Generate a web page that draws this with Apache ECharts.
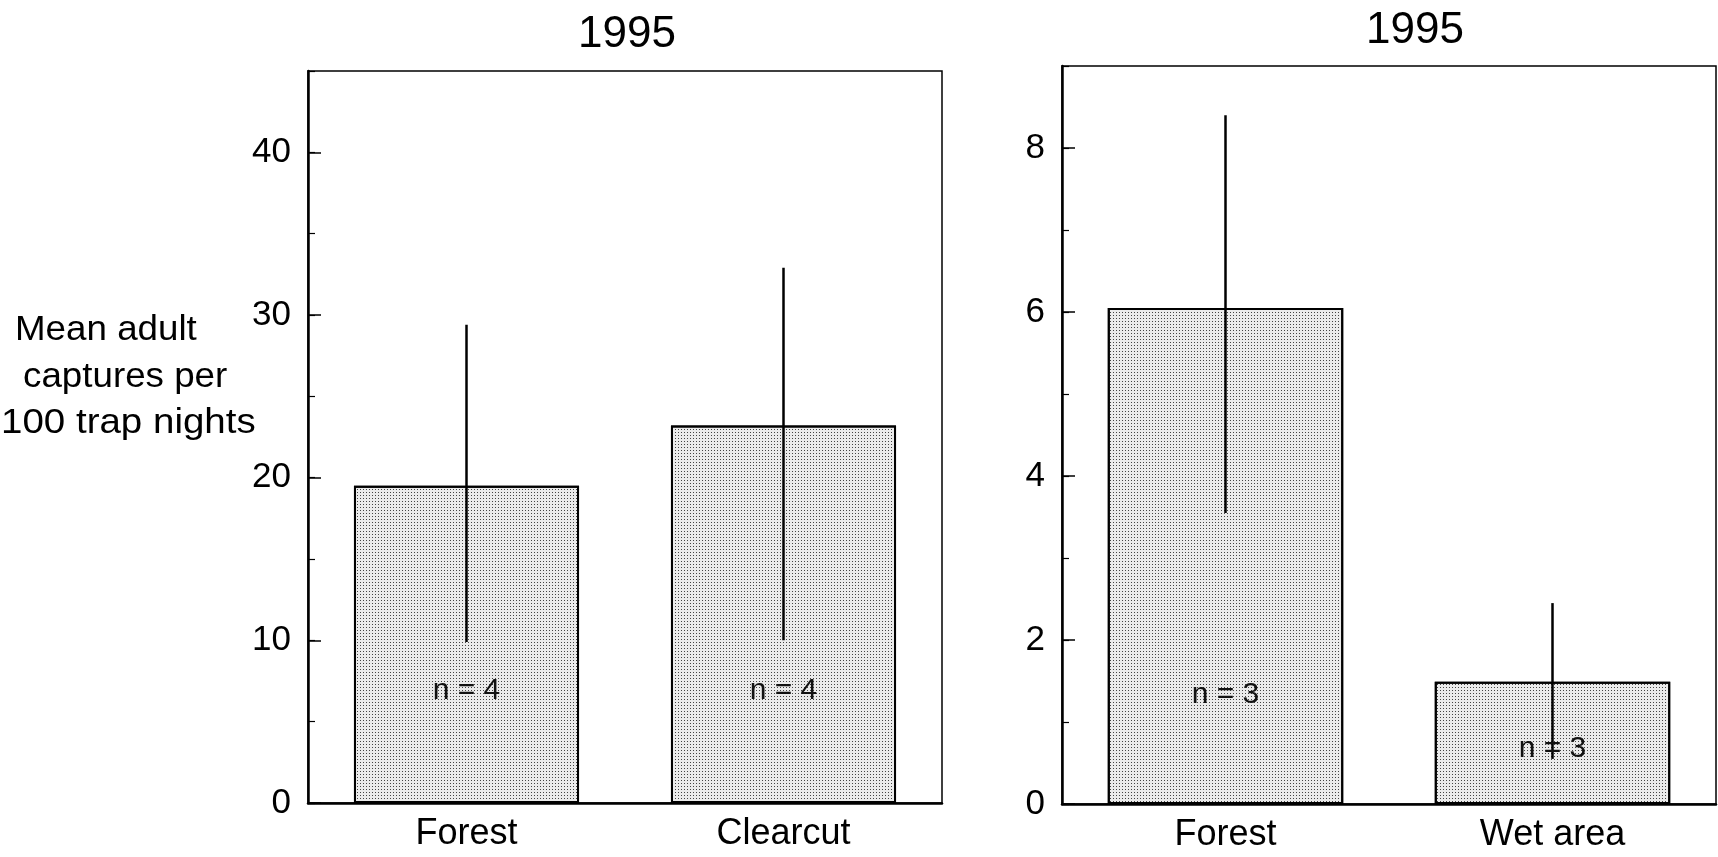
<!DOCTYPE html>
<html>
<head>
    <meta charset="utf-8" />
    <title>Mean adult captures 1995</title>
    <style>
        html, body { margin: 0; padding: 0; background: #fff; }
        #main { width: 1718px; height: 857px; }
    </style>
</head>
<body>
    <div id="main"></div>
    <script src="https://cdn.jsdelivr.net/npm/echarts@6/dist/echarts.min.js"></script>
    <script type="text/javascript">
        // left panel: forest vs clearcut
        var leftCats = ['Forest', 'Clearcut'];
        var leftMeans = [19.5, 23.2];
        var leftLow = [9.9, 10.0];
        var leftHigh = [29.4, 32.9];
        var leftN = ['n = 4', 'n = 4'];
        var leftNAt = [6.9, 6.9];

        // right panel: forest vs wet area
        var rightCats = ['Forest', 'Wet area'];
        var rightMeans = [6.05, 1.49];
        var rightLow = [3.55, 0.55];
        var rightHigh = [8.4, 2.45];
        var rightN = ['n = 3', 'n = 3'];
        var rightNAt = [1.33, 0.68];

        var panelTitles = ['1995', '1995'];
        var yName = ['Mean adult', 'captures per', '100 trap nights'];

        var FONT = 'Liberation Sans, Arial, sans-serif';

        var chart = echarts.init(document.getElementById('main'));

        function errData(low, high) {
            return low.map(function (v, i) { return [i, v, high[i]]; });
        }
        function nData(at, txt) {
            return at.map(function (v, i) { return [i, v, txt[i]]; });
        }

        function errRender(params, api) {
            var a = api.coord([api.value(0), api.value(1)]);
            var b = api.coord([api.value(0), api.value(2)]);
            return {
                type: 'line',
                shape: { x1: a[0], y1: a[1], x2: b[0], y2: b[1] },
                style: { stroke: '#000', lineWidth: 2.5 }
            };
        }
        function nRender(params, api) {
            var p = api.coord([api.value(0), api.value(1)]);
            return {
                type: 'text',
                x: p[0], y: p[1],
                style: {
                    text: api.value(2),
                    fill: '#111',
                    font: '30px ' + FONT,
                    textAlign: 'center',
                    textVerticalAlign: 'middle'
                }
            };
        }

        var barStyle = {
            color: '#ebebeb',
            borderColor: '#000',
            borderWidth: 2,
            decal: {
                symbol: 'rect',
                symbolSize: 1,
                dashArrayX: [1, 2],
                dashArrayY: [1, 2],
                color: '#444'
            }
        };

        function xAxis(idx, cats) {
            return {
                type: 'category', gridIndex: idx, data: cats,
                axisLine: { lineStyle: { color: '#000', width: 2.5 } },
                axisTick: { inside: true, alignWithLabel: true, length: 12, lineStyle: { color: '#000', width: 1.5 } },
                axisLabel: { color: '#000', fontSize: 36, fontFamily: FONT, margin: 13 },
                splitLine: { show: false }
            };
        }
        function yMajor(idx, max, step) {
            return {
                type: 'value', gridIndex: idx, position: 'left', min: 0, max: max, interval: step,
                axisLine: { show: true, lineStyle: { color: '#000', width: 2.5 } },
                axisTick: { show: true, inside: true, length: 13, lineStyle: { color: '#000', width: 1.5 } },
                axisLabel: { color: '#000', fontSize: 35, fontFamily: FONT, margin: 17, showMaxLabel: false },
                splitLine: { show: false }
            };
        }
        function yMinor(idx, max, step) {
            return {
                type: 'value', gridIndex: idx, position: 'left', offset: 0, min: 0, max: max, interval: step,
                axisLine: { show: false },
                axisTick: { show: true, inside: true, length: 7, lineStyle: { color: '#000', width: 1.2 } },
                axisLabel: { show: false },
                splitLine: { show: false }
            };
        }

        var option = {
            animation: false,
            backgroundColor: '#fff',
            title: [
                { text: panelTitles[0], left: 622, top: 8, textAlign: 'center',
                  textStyle: { fontSize: 44, fontWeight: 'normal', color: '#000', fontFamily: FONT } },
                { text: panelTitles[1], left: 1410, top: 4, textAlign: 'center',
                  textStyle: { fontSize: 44, fontWeight: 'normal', color: '#000', fontFamily: FONT } }
            ],
            grid: [
                { left: 308, top: 71, width: 634, height: 732, show: true, borderColor: '#000', borderWidth: 1.5 },
                { left: 1062, top: 66, width: 654, height: 738, show: true, borderColor: '#000', borderWidth: 1.5 }
            ],
            xAxis: [xAxis(0, leftCats), xAxis(1, rightCats)],
            yAxis: [
                yMajor(0, 45, 10), yMinor(0, 45, 5),
                yMajor(1, 9, 2), yMinor(1, 9, 1)
            ],
            graphic: [
                { type: 'text', x: 15, y: 348, scaleX: 1.05,
                  style: { text: yName[0], font: '35px ' + FONT, fill: '#000', textVerticalAlign: 'bottom' } },
                { type: 'text', x: 23, y: 395, scaleX: 1.05,
                  style: { text: yName[1], font: '35px ' + FONT, fill: '#000', textVerticalAlign: 'bottom' } },
                { type: 'text', x: 1, y: 441, scaleX: 1.1,
                  style: { text: yName[2], font: '35px ' + FONT, fill: '#000', textVerticalAlign: 'bottom' } }
            ],
            series: [
                { type: 'bar', xAxisIndex: 0, yAxisIndex: 0, data: leftMeans, barWidth: '71%', itemStyle: barStyle },
                { type: 'custom', xAxisIndex: 0, yAxisIndex: 0, data: errData(leftLow, leftHigh), renderItem: errRender, z: 5 },
                { type: 'custom', xAxisIndex: 0, yAxisIndex: 0, data: nData(leftNAt, leftN), renderItem: nRender, z: 6 },
                { type: 'bar', xAxisIndex: 1, yAxisIndex: 2, data: rightMeans, barWidth: '72%', itemStyle: barStyle },
                { type: 'custom', xAxisIndex: 1, yAxisIndex: 2, data: errData(rightLow, rightHigh), renderItem: errRender, z: 5 },
                { type: 'custom', xAxisIndex: 1, yAxisIndex: 2, data: nData(rightNAt, rightN), renderItem: nRender, z: 6 }
            ]
        };

        chart.setOption(option);
    </script>
</body>
</html>
